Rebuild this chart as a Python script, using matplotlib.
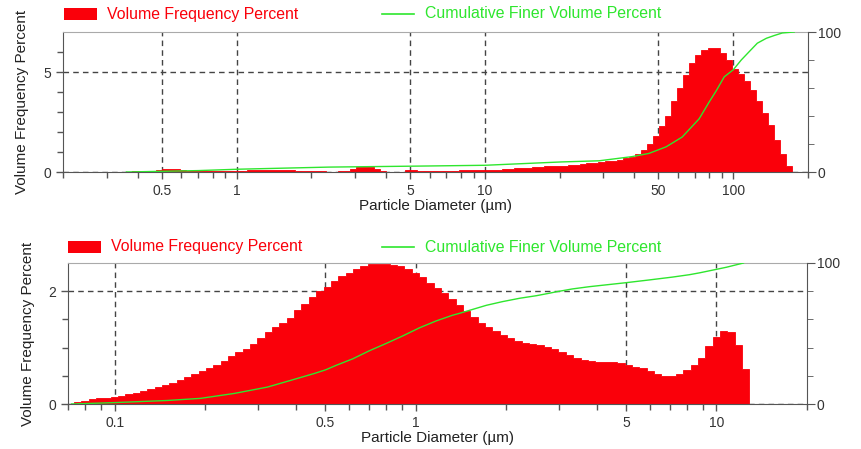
import numpy as np
import matplotlib
matplotlib.use("Agg")
import matplotlib.pyplot as plt
from matplotlib.patches import Rectangle
from matplotlib.lines import Line2D
from matplotlib.ticker import FixedLocator, NullFormatter, FixedFormatter, LogLocator

plt.rcParams['font.family'] = ['Liberation Sans', 'DejaVu Sans']

RED = '#fa000a'
GREEN = '#2ee62e'
AXC = '#555555'
TXT = '#333333'

# ---- top sample: 112 channels between these diameters (um)
top_d_min, top_d_max = 0.320, 173.0
top_freq = [
    0, 0, 0.02, 0.03, 0.03, 0.04, 0.05, 0.12, 0.13, 0.13,
    0.13, 0.12, 0.05, 0.04, 0.04, 0.04, 0.05, 0.05, 0.05, 0.06,
    0.06, 0.07, 0.08, 0.08, 0.10, 0.10, 0.09, 0.09, 0.08, 0.08,
    0.07, 0.07, 0.06, 0.04, 0.03, 0.02, 0.02, 0.03, 0.06, 0.15,
    0.24, 0.27, 0.25, 0.15, 0.04, 0.01, 0.0, 0.02, 0.10, 0.12,
    0.06, 0.05, 0.05, 0.05, 0.06, 0.06, 0.07, 0.08, 0.08, 0.08,
    0.08, 0.09, 0.10, 0.12, 0.14, 0.16, 0.18, 0.20, 0.22, 0.24,
    0.26, 0.28, 0.29, 0.30, 0.32, 0.34, 0.37, 0.40, 0.43, 0.46,
    0.50, 0.53, 0.57, 0.62, 0.68, 0.76, 0.88, 1.08, 1.40, 1.80,
    2.30, 2.80, 3.55, 4.20, 4.85, 5.45, 5.85, 6.10, 6.20, 6.20,
    5.95, 5.60, 5.15, 4.90, 4.55, 4.10, 3.55, 2.95, 2.35, 1.60,
    0.90, 0.30,
]
top_cum_d = [0.36, 0.70, 1.02, 2.35, 5.94, 10, 20.4, 28.8, 39.2, 45.8,
             53.7, 62.3, 72.9, 80.0, 85.4, 92.0, 100, 107.7, 116, 125,
             135.9, 146.3, 157.6, 176]
top_cum = [0, 1, 2, 3.5, 4.3, 4.8, 7.2, 8, 11, 13.3,
           18, 25, 38, 50, 58, 68, 73, 80, 86, 92,
           95.5, 97.5, 99.3, 100]

# ---- bottom sample: 92 channels
bot_d_min, bot_d_max = 0.0732, 12.87
bot_freq = [
    0.04, 0.06, 0.08, 0.10, 0.11, 0.13, 0.15, 0.17, 0.19, 0.23,
    0.26, 0.30, 0.34, 0.38, 0.43, 0.48, 0.53, 0.59, 0.64, 0.70,
    0.77, 0.85, 0.92, 0.98, 1.07, 1.17, 1.27, 1.36, 1.44, 1.53,
    1.66, 1.77, 1.89, 2.00, 2.08, 2.18, 2.27, 2.33, 2.39, 2.45,
    2.48, 2.49, 2.49, 2.47, 2.44, 2.39, 2.33, 2.25, 2.15, 2.06,
    1.97, 1.86, 1.76, 1.65, 1.54, 1.44, 1.36, 1.29, 1.23, 1.17,
    1.12, 1.09, 1.07, 1.04, 1.01, 0.97, 0.92, 0.87, 0.82, 0.78,
    0.76, 0.75, 0.74, 0.74, 0.73, 0.69, 0.66, 0.63, 0.58, 0.53,
    0.50, 0.49, 0.53, 0.60, 0.70, 0.82, 1.02, 1.18, 1.29, 1.27,
    1.05, 0.62,
]
bot_cum_d = [0.072, 0.1, 0.15, 0.193, 0.25, 0.322, 0.367, 0.415, 0.462, 0.502,
             0.546, 0.618, 0.703, 0.80, 0.905, 1.03, 1.174, 1.33, 1.40, 1.72,
             1.945, 2.22, 2.52, 2.79, 2.94, 3.32, 3.78, 4.99, 5.99, 7.14,
             8.13, 8.78, 10, 10.8, 12.3]
bot_cum = [0, 1, 2.5, 4, 7.5, 12, 15.5, 18.8, 21.7, 24.2,
           27.5, 32, 37.8, 43, 48.2, 54, 59, 63, 64.3, 70,
           72.6, 75, 76.8, 78.6, 79.6, 81.6, 83.2, 86, 88, 90,
           91.7, 93, 95.5, 97, 100]

W, H = 861, 449


def fx(px):
    return px / W


def fy(py):
    return 1 - py / H


def panel(box, freq, d_min, d_max, cum_d, cum, xlim, ylim, xmaj, ymaj, ymin_ticks, leg_y, leg_x0):
    left, top, right, bottom = box
    ax = fig.add_axes([fx(left), fy(bottom), (right - left) / W, (bottom - top) / H])
    edges = np.logspace(np.log10(d_min), np.log10(d_max), len(freq) + 1)
    ax.stairs(freq, edges, fill=True, facecolor=RED, edgecolor=RED, lw=0.6, zorder=2)
    ax.set_xscale('log')
    ax.set_xlim(*xlim)
    ax.set_ylim(*ylim)
    ax.set_axisbelow(True)

    ax.xaxis.set_major_locator(FixedLocator(xmaj))
    ax.xaxis.set_major_formatter(FixedFormatter([('%g' % v) for v in xmaj]))
    ax.xaxis.set_minor_locator(LogLocator(base=10, subs=np.arange(1, 10), numticks=20))
    ax.xaxis.set_minor_formatter(NullFormatter())
    ax.yaxis.set_major_locator(FixedLocator(ymaj))
    ax.yaxis.set_minor_locator(FixedLocator(ymin_ticks))
    ax.grid(True, which='major', axis='both', color='#444444', lw=1.0, ls=(0, (4, 3)))

    ax.tick_params(which='both', direction='out', colors=AXC, labelcolor=TXT, labelsize=10)
    ax.tick_params(which='major', length=5, width=1)
    ax.tick_params(which='minor', length=4, width=1)
    for s in ['left', 'bottom']:
        ax.spines[s].set_color(AXC)
    ax.spines['top'].set_color('#aaaaaa')
    ax.spines['right'].set_visible(False)

    ax.set_xlabel('Particle Diameter (\u00b5m)', fontsize=11, color='#222222', labelpad=1)
    ax.set_ylabel('Volume Frequency Percent', fontsize=11, color='#222222')
    ax.yaxis.set_label_coords(-0.045, 0.5)

    axr = ax.twinx()
    axr.plot(cum_d, cum, color=GREEN, lw=1.0)
    axr.set_ylim(0, 100)
    axr.yaxis.set_major_locator(FixedLocator([0, 100]))
    axr.yaxis.set_minor_locator(FixedLocator([20, 40, 60, 80]))
    axr.tick_params(which='both', direction='out', colors=AXC, labelcolor=TXT, labelsize=10, pad=1)
    axr.tick_params(which='major', length=6)
    axr.tick_params(which='minor', length=4)
    axr.spines['right'].set_color(AXC)
    for s in ['left', 'top', 'bottom']:
        axr.spines[s].set_visible(False)

    # legend above the plot
    fig.add_artist(Rectangle((fx(leg_x0), fy(leg_y + 6)), 33 / W, 12 / H,
                             transform=fig.transFigure, color=RED, lw=0))
    fig.text(fx(leg_x0 + 43), fy(leg_y), 'Volume Frequency Percent', color=RED,
             fontsize=11.4, va='center', ha='left')
    fig.add_artist(Line2D([fx(382), fx(414)], [fy(leg_y), fy(leg_y)],
                          transform=fig.transFigure, color=GREEN, lw=1.2))
    fig.text(fx(425), fy(leg_y), 'Cumulative Finer Volume Percent', color=GREEN,
             fontsize=11.4, va='center', ha='left')
    return ax


fig = plt.figure(figsize=(W / 100, H / 100), dpi=100)

panel((63, 32, 808, 172), top_freq, top_d_min, top_d_max, top_cum_d, top_cum,
      (0.2, 200), (0, 7), [0.5, 1, 5, 10, 50, 100], [0, 5], [1, 2, 3, 4, 6],
      14, 64)

panel((68, 263, 807, 404), bot_freq, bot_d_min, bot_d_max, bot_cum_d, bot_cum,
      (0.07, 20), (0, 2.5), [0.1, 0.5, 1, 5, 10], [0, 2], [0.5, 1, 1.5],
      247, 68)

fig.savefig('out.png', dpi=100)
